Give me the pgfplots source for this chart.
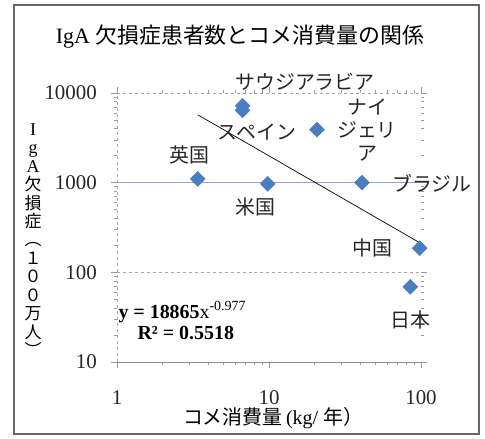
\documentclass[border=0pt]{standalone}
\usepackage{pgfplots}
\pgfplotsset{compat=1.18}
\usepackage{fontspec}
\setmainfont{Liberation Serif}
\newfontfamily\jp{Noto Sans CJK JP}
\definecolor{mk}{HTML}{4A7EC0}
\definecolor{bl}{RGB}{150,165,200}
\begin{document}
\begin{tikzpicture}[x=1bp,y=1bp]
\path[use as bounding box] (0,0) rectangle (485,439);
\draw[black!60, line width=1.3bp] (14,5) rectangle (479,434);
\begin{axis}[at={(117bp,77bp)}, anchor=south west, scale only axis,
  width=304bp, height=269bp,
  xmode=log, ymode=log, xmin=1, xmax=100, ymin=10, ymax=10000,
  xtick={1,10,100}, ytick={10,100,1000,10000},
  xticklabels={1,10,100}, yticklabels={10,100,1000,10000},
  minor tick num=0, minor xtick={}, minor ytick={},
  axis line style={draw=none},
  tick align=outside, major tick length=6bp,
  tick style={black!40, line width=0.6bp},
  /pgf/number format/assume math mode=true,
  ticklabel style={font=\fontsize{21}{21}\selectfont, text=black!85},
  xticklabel style={anchor=center, yshift=-29.5bp, inner sep=0pt},
  yticklabel style={anchor=east, inner sep=0pt, xshift=-14bp},
  clip=false,
]
\draw[black!35, dashed, line width=0.6bp] (axis cs:1,10000) -- (axis cs:100,10000);
\draw[black!35, dashed, line width=0.6bp] (axis cs:1,100) -- (axis cs:100,100);
\draw[bl, line width=0.8bp] (axis cs:1,1000) -- (axis cs:100,1000);
\draw[black!35, dashed, line width=0.6bp] (axis cs:1,10) -- (axis cs:1,10000);
\draw[black!45, line width=0.7bp] (axis cs:1,10) -- (axis cs:100,10);
\addplot[black, line width=0.7bp, mark=none] coordinates {(3.4,5708) (98,214)};
\addplot[only marks, mark=diamond*, mark size=7.5bp,
  mark options={xscale=1.33, fill=mk, draw=mk}] coordinates {
  (3.4,1100) (6.7,7200) (6.7,6400) (9.8,970) (20.7,3900) (40.9,1000) (85,69) (98,186)};
\end{axis}
\node[font=\fontsize{22}{22}\selectfont] at (240,402) {IgA {\jp 欠損症患者数とコメ消費量の関係}};
\node[align=center, font=\fontsize{17}{18.5}\selectfont\jp, inner sep=0pt] at (33,199)
  {{\rmfamily\fontsize{18}{18.5}\selectfont I}\\{\rmfamily\fontsize{18}{18.5}\selectfont g}\\{\rmfamily\fontsize{18}{18.5}\selectfont A}\\欠\\損\\症\\︵\\１\\０\\０\\万\\人\\︶};
\node[font=\fontsize{20}{20}\selectfont] at (273,21) {{\jp コメ消費量}\,(kg/ {\jp 年）}};
\begin{scope}[every node/.style={font=\fontsize{20}{20}\selectfont\jp, text=black!85}]
\node at (305,357) {サウジアラビア};
\node at (257,307) {スペイン};
\node[align=center, font=\fontsize{20}{23}\selectfont\jp] at (367,309) {ナイ\\ジェリ\\ア};
\node at (189,284) {英国};
\node at (255,232) {米国};
\node at (432,256) {ブラジル};
\node at (372,191) {中国};
\node at (410,119) {日本};
\end{scope}
\node[anchor=west, font=\fontsize{20}{20}\selectfont] at (115,127) {\textbf{y = 18865}x\textsuperscript{-0.977}};
\node[anchor=west, font=\fontsize{20}{20}\selectfont\bfseries] at (134,106) {R² = 0.5518};
\end{tikzpicture}
\end{document}
